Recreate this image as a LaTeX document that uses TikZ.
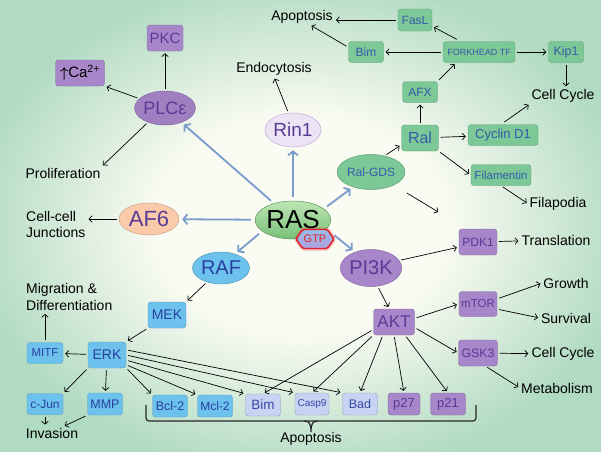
\documentclass[tikz,border=0pt]{standalone}
\usepackage{fontspec}
\setmainfont{Liberation Sans}
\usetikzlibrary{arrows.meta,shapes.geometric,shapes.symbols}

\newcommand{\fsz}[1]{\fontsize{#1}{#1}\selectfont}

\definecolor{bggreen}{RGB}{176,218,194}
\definecolor{bgmid}{RGB}{250,251,242}
\definecolor{rasblue}{RGB}{122,156,204}
\definecolor{grnfill}{RGB}{124,200,150}
\definecolor{grntext}{RGB}{52,92,172}
\definecolor{prpfill}{RGB}{168,134,202}
\definecolor{prptext}{RGB}{88,60,150}
\definecolor{blufill}{RGB}{108,194,236}
\definecolor{blutext}{RGB}{40,64,160}
\definecolor{lavfill}{RGB}{200,210,242}
\definecolor{lavtext}{RGB}{56,72,166}
\definecolor{rastop}{RGB}{190,230,180}
\definecolor{rasbot}{RGB}{120,192,120}
\definecolor{af6fill}{RGB}{250,202,170}
\definecolor{rinfill}{RGB}{236,228,244}
\definecolor{gtpred}{RGB}{230,32,40}
\definecolor{gtptop}{RGB}{150,190,236}
\definecolor{gtpbot}{RGB}{176,160,220}

\pgfdeclareradialshading{bgglow}{\pgfpoint{0bp}{0bp}}{color(0bp)=(bgmid); color(12bp)=(bgmid); color(28bp)=(bggreen); color(50bp)=(bggreen)}

\tikzset{
  box/.style={rectangle, rounded corners=3pt, inner sep=1pt, minimum height=21pt, line width=0.4pt},
  grnbox/.style={box, fill=grnfill, draw=grnfill!80!black, text=grntext},
  prpbox/.style={box, fill=prpfill, draw=prpfill!80!black, text=prptext},
  blubox/.style={box, fill=blufill, draw=blufill!80!black, text=blutext},
  lavbox/.style={box, fill=lavfill, draw=lavfill!75!black, text=lavtext},
  oval/.style={ellipse, inner sep=0pt, line width=0.5pt},
  lbl/.style={inner sep=1pt, font=\fsz{14}},
  arr/.style={-{Straight Barb[length=3pt,width=6.5pt]}, line width=0.7pt, shorten >=2pt, shorten <=2pt},
  rasarr/.style={-{Straight Barb[length=4pt,width=10pt]}, line width=1.8pt, draw=rasblue, shorten >=3pt, shorten <=4pt},
}

\begin{document}
\begin{tikzpicture}[x=1pt,y=-1pt]
  \shade[shading=bgglow] (0,0) rectangle (601,451);
  \useasboundingbox (0,0) rectangle (601,451);

  % labels
  \node[lbl] (apopT) at (302,17) {Apoptosis};
  \node[lbl] (endo) at (274,69) {Endocytosis};
  \node[lbl] (prolif) at (63,173) {Proliferation};
  \node[lbl, align=left, anchor=west, font=\fontsize{14}{16}\selectfont] (junc) at (25,224) {Cell-cell\\Junctions};
  \node[lbl, align=left, anchor=west, font=\fontsize{14}{17}\selectfont] (mig) at (25,297) {Migration \&\\Differentiation};
  \node[lbl] (inv) at (52,433) {Invasion};
  \node[lbl] (apopB) at (311,439) {Apoptosis};
  \node[lbl] (cc1) at (563,96) {Cell Cycle};
  \node[lbl] (filap) at (558,204) {Filapodia};
  \node[lbl] (trans) at (556,240) {Translation};
  \node[lbl] (growth) at (566,283) {Growth};
  \node[lbl] (surv) at (566,318) {Survival};
  \node[lbl] (cc2) at (563,354) {Cell Cycle};
  \node[lbl] (metab) at (557,388) {Metabolism};

  % PLC and friends
  \node[prpbox, minimum width=36pt, minimum height=26pt, font=\fsz{15}] (pkc) at (165,38) {PKC};
  \node[prpbox, minimum width=49pt, minimum height=26pt, font=\fsz{15}, text=black] (ca) at (80,73) {{\boldmath$\uparrow$}Ca\textsuperscript{2+}};
  \node[oval, fill=prpfill!95!black, draw=prpfill!80!black, text=prptext, minimum width=56pt, minimum height=34pt, font=\fsz{18}] (plc) at (165,108) {PLCε};
  \node[oval, fill=rinfill, draw=prpfill!70!white, text=prptext, minimum width=56pt, minimum height=34pt, font=\fsz{19}] (rin) at (293,130) {Rin1};
  \node[oval, fill=af6fill, draw=af6fill!80!black, text=prptext, minimum width=60pt, minimum height=32pt, font=\fsz{22}] (af6) at (149,219) {AF6};
  \node[oval, fill=blufill, draw=blufill!80!black, text=blutext, minimum width=57pt, minimum height=32pt, font=\fsz{20}] (raf) at (221,268) {RAF};
  \node[oval, fill=prpfill, draw=prpfill!80!black, text=prptext, minimum width=60pt, minimum height=37pt, font=\fsz{20}] (pi3k) at (371,268) {PI3K};
  \node[oval, fill=grnfill, draw=grnfill!80!black, text=grntext, minimum width=58pt, minimum height=35pt, font=\fsz{12}] (rgds) at (371,172) {Ral-GDS};

  % Ral branch
  \node[grnbox, minimum width=37pt, minimum height=26pt, font=\fsz{16}] (ral) at (420,138) {Ral};
  \node[grnbox, minimum width=35pt, font=\fsz{12}] (afx) at (420,92) {AFX};
  \node[grnbox, minimum width=34pt, minimum height=22pt, font=\fsz{12}] (fasl) at (415,20) {FasL};
  \node[grnbox, minimum width=35pt, font=\fsz{12}] (bimT) at (366,52) {Bim};
  \node[grnbox, minimum width=72pt, font=\fsz{9}] (fork) at (479,52) {FORKHEAD TF};
  \node[grnbox, minimum width=35pt, font=\fsz{12.5}] (kip) at (566,52) {Kip1};
  \node[grnbox, minimum width=70pt, font=\fsz{13}] (cyc) at (503,135) {Cyclin D1};
  \node[grnbox, minimum width=60pt, font=\fsz{11.5}] (fil) at (501,175) {Filamentin};
  \coordinate (rgdsend) at (440,213);

  % PI3K branch
  \node[prpbox, minimum width=38pt, minimum height=26pt, font=\fsz{12}] (pdk) at (478,242) {PDK1};
  \node[prpbox, minimum width=41pt, minimum height=26pt, font=\fsz{17}] (akt) at (394,322) {AKT};
  \node[prpbox, minimum width=38pt, minimum height=25pt, font=\fsz{11.5}] (mtor) at (478,304) {mTOR};
  \node[prpbox, minimum width=39pt, minimum height=26pt, font=\fsz{12.3}] (gsk) at (478,353) {GSK3};

  % RAF branch
  \node[blubox, minimum width=38pt, minimum height=26pt, font=\fsz{14}] (mek) at (167,315) {MEK};
  \node[blubox, minimum width=38pt, minimum height=26pt, font=\fsz{14}] (erk) at (107,355) {ERK};
  \node[blubox, minimum width=36pt, font=\fsz{11.5}] (mitf) at (45,353) {MITF};
  \node[blubox, minimum width=36pt, font=\fsz{12}] (cjun) at (45,404) {c-Jun};
  \node[blubox, minimum width=35pt, minimum height=22pt, font=\fsz{12.5}] (mmp) at (105,404) {MMP};

  % bottom row
  \node[blubox, minimum width=35pt, minimum height=22pt, font=\fsz{12.5}] (bcl) at (170,406) {Bcl-2};
  \node[blubox, minimum width=35pt, minimum height=22pt, font=\fsz{12}] (mcl) at (215,406) {Mcl-2};
  \node[lavbox, minimum width=35pt, minimum height=22pt, font=\fsz{13.5}] (bimB) at (263,405) {Bim};
  \node[lavbox, minimum width=34pt, minimum height=22pt, font=\fsz{10}] (casp) at (312,404) {Casp9};
  \node[lavbox, minimum width=35pt, minimum height=22pt, font=\fsz{12.5}] (bad) at (360,404) {Bad};
  \node[prpbox, minimum width=32pt, minimum height=22pt, font=\fsz{13}] (p27) at (404,404) {p27};
  \node[prpbox, minimum width=35pt, minimum height=22pt, font=\fsz{13}] (p21) at (448,404) {p21};

  % RAS
  \node[oval, top color=rastop, bottom color=rasbot, draw=rasbot!75!black, minimum width=74pt, minimum height=38pt, font=\fsz{26}] (ras) at (293,220) {RAS};

  \draw[rasarr] (ras) -- (plc);
  \draw[rasarr] (ras) -- (rin);
  \draw[rasarr] (ras) -- (af6);
  \draw[rasarr] (ras.200) -- (raf.45);
  \draw[rasarr] (ras.20) -- (rgds.220);
  \draw[rasarr, shorten <=10pt] (ras.-15) -- (pi3k.135);

  \node[signal, signal to=east and west, signal pointer angle=110, top color=gtptop, bottom color=gtpbot,
        draw=gtpred, line width=1.4pt, rounded corners=1.5pt,
        preaction={draw=gtpred, line width=4pt, opacity=0.3}, text=gtpred, inner sep=1pt,
        minimum width=34pt, minimum height=19pt, font=\fsz{11}] (gtp) at (315,239) {GTP};

  % thin arrows
  \draw[arr] (plc) -- (pkc);
  \draw[arr] (plc.160) -- (ca.south east);
  \draw[arr] (plc.220) -- (prolif.north east);
  \draw[arr] (rin.105) -- (endo.south);
  \draw[arr] (af6.west) -- (af6.west -| junc.east);
  \draw[arr] (raf.225) -- (mek.north east);
  \draw[arr] (mek.south west) -- (erk.north east);
  \draw[arr] (erk) -- (mitf);
  \draw[arr] (mitf.north) -- (mitf.north |- mig.south);
  \draw[arr] (erk.south west) -- (cjun.north east);
  \draw[arr] (erk) -- (mmp);
  \draw[arr] (cjun) -- (cjun |- inv.north);
  \draw[arr] (mmp.south west) -- (inv.30);
  \draw[arr] (erk.-34) -- (bcl.north west);
  \draw[arr] (erk.-27) -- (mcl.north west);
  \draw[arr] (erk.-15) -- (bimB.north west);
  \draw[arr] (erk.east) -- (casp.north west);
  \draw[arr] (erk.15) -- (bad.north west);

  \draw[arr] (akt.200) -- (bimB.north);
  \draw[arr] (akt.south west) -- (casp.north);
  \draw[arr] (akt.230) -- (bad.north);
  \draw[arr] (akt.south) -- (p27.north);
  \draw[arr] (akt.-50) -- (p21.north);
  \draw[arr] (akt.10) -- (mtor.west);
  \draw[arr] (akt.-15) -- (gsk.west);
  \draw[arr] (mtor.15) -- (growth.west);
  \draw[arr] (mtor.-15) -- (surv.west);
  \draw[arr] (gsk) -- (cc2);
  \draw[arr] (gsk.-60) -- (metab.west);
  \draw[arr] (pi3k.-70) -- (akt.110);
  \draw[arr] (pi3k.15) -- (pdk.195);
  \draw[arr] (pdk) -- (trans);

  \draw[arr] (rgds.50) -- (ral.200);
  \draw[arr, shorten <=15pt] (rgds.-30) -- (rgdsend);
  \draw[arr] (ral) -- (afx);
  \draw[arr] (afx.north east) -- (fork.205);
  \draw[arr] (fork) -- (bimT);
  \draw[arr, shorten <=4pt] (fork.150) -- (fasl.-20);
  \draw[arr] (fork) -- (kip);
  \draw[arr] (fasl.west) -- (fasl.west -| apopT.east);
  \draw[arr] (bimT.165) -- (apopT.-45);
  \draw[arr] (kip.south) -- (kip.south |- cc1.north);
  \draw[arr] (ral) -- (cyc);
  \draw[arr, shorten <=4pt] (cyc.100) -- (cc1.south west);
  \draw[arr] (ral.south east) -- (fil.west);
  \draw[arr] (fil.south) -- (filap.west);

  % brace under the apoptosis targets
  \draw[line width=1.2pt, rounded corners=3pt, draw=black!85] (146,405) -- (146,421) -- (476,421) -- (476,405);
  \draw[line width=1.2pt, draw=black!85] (304,421) .. controls (309,421) and (311,423) .. (311,432)
        (318,421) .. controls (313,421) and (311,423) .. (311,432);
\end{tikzpicture}
\end{document}
